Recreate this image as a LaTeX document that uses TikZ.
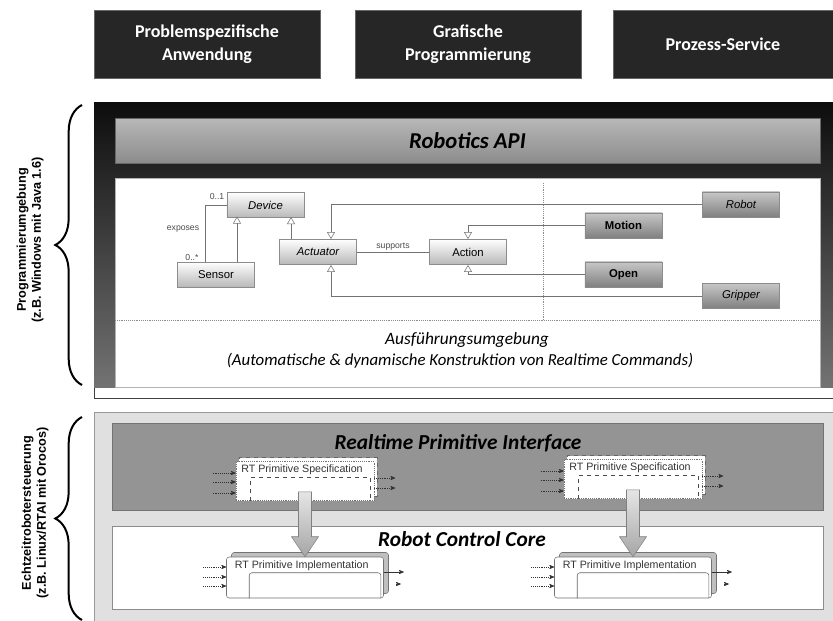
\documentclass[tikz,border=0pt]{standalone}
\usepackage{fontspec}
\setmainfont{Carlito}
\newfontfamily\arialfont{Liberation Sans}
\usepackage{tikz}
\usetikzlibrary{shapes,arrows,calc,decorations.pathreplacing}
\tikzstyle{topbox} = [draw=black!60, fill=black!85, text=white, align=center, font=\bfseries\fontsize{13.5}{17}\selectfont, minimum width=169.5pt, minimum height=51pt, inner sep=0pt]
\tikzstyle{bar} = [font=\bfseries\itshape\fontsize{17}{19}\selectfont, inner sep=0pt]
\tikzstyle{cls} = [draw=black!45, top color=white, bottom color=black!28, font=\arialfont\fontsize{8.5}{9}\selectfont, minimum width=58pt, minimum height=19pt, inner sep=0pt]
\tikzstyle{sub} = [cls, top color=black!22, bottom color=black!50]
\tikzstyle{uml} = [draw=black!55, thin]
\tikzstyle{gen} = [uml, -open triangle 60]
\tikzstyle{tiny} = [font=\arialfont\fontsize{6.5}{7}\selectfont, text=black!70, inner sep=1pt]
\tikzstyle{bracetxt} = [rotate=90, align=center, font=\arialfont\bfseries\fontsize{9.5}{11.25}\selectfont]
\tikzstyle{specbox} = [draw=black!55, densely dotted, fill=white, minimum width=103.5pt, minimum height=29.25pt, inner sep=0pt]
\tikzstyle{specback} = [draw=black!60, dashed, fill=white, minimum width=103.5pt, minimum height=29.25pt, inner sep=0pt]
\tikzstyle{implbox} = [draw=black!55, rounded corners=2pt, fill=white, minimum width=117.75pt, minimum height=30.75pt, inner sep=0pt]
\tikzstyle{implback} = [implbox, fill=black!25]
\tikzstyle{rtlabel} = [font=\arialfont\fontsize{8}{9}\selectfont, text=black!80, inner sep=1pt]
\tikzstyle{port} = [densely dotted, black!80, -stealth']
\tikzstyle{bigarrow} = [draw=black!50, top color=black!10, bottom color=black!35]

\begin{document}
\begin{tikzpicture}[x=0.75pt,y=-0.75pt]
\useasboundingbox (0,0) rectangle (833,621);

% Anwendungen
\node[topbox] (prob) at (207,44) {Problemspezifische\\Anwendung};
\node[topbox] (graf) at (468,44) {Grafische\\Programmierung};
\node[topbox, minimum width=165pt] (proz) at (723,44) {Prozess-Service};

% Programmierumgebung
\draw[black!75, fill=white] (94,102) rectangle (833,398);
\shade[top color=black!95, bottom color=black!55] (94,102) rectangle (833,387);
\node[bar, draw=black!60, top color=black!28, bottom color=black!45, minimum width=528.75pt, minimum height=33.75pt] (api) at (467.5,140.5) {Robotics API};
\draw[black!30, fill=white] (115,178) rectangle (820,387);
\draw[black!45, densely dotted] (115,320) -- (820,320);
\draw[black!45, densely dotted] (543,183) -- (543,320);

\node[cls, font=\arialfont\itshape\fontsize{8.5}{9}\selectfont] (device) at (265.5,205) {Device};
\node[cls] (sensor) at (216,274.5) {Sensor};
\node[cls, font=\arialfont\itshape\fontsize{8.5}{9}\selectfont] (actuator) at (318,252) {Actuator};
\node[cls] (action) at (468,252) {Action};
\node[sub, font=\arialfont\bfseries\fontsize{8.5}{9}\selectfont] (motion) at (623.5,225.5) {Motion};
\node[sub, font=\arialfont\bfseries\fontsize{8.5}{9}\selectfont] (open) at (623.5,274.5) {Open};
\node[sub, font=\arialfont\itshape\fontsize{8.5}{9}\selectfont] (robot) at (741,204.5) {Robot};
\node[sub, font=\arialfont\itshape\fontsize{8.5}{9}\selectfont] (gripper) at (741,296) {Gripper};

\draw[gen] ($(sensor.north)+(21,0)$) -- ($(sensor.north)+(21,-45)$);
\draw[gen] ($(actuator.north)+(-27,0)$) -- ($(actuator.north)+(-27,-22)$);
\draw[uml] (device.west) -| ($(sensor.north)+(-11,0)$);
\draw[gen] (robot.west) -| ($(actuator.north)+(13,0)$);
\draw[gen] (gripper.west) -| ($(actuator.south)+(13,0)$);
\draw[gen] (motion.west) -| (action.north);
\draw[gen] (open.west) -| (action.south);
\path (actuator) edge[uml] node[tiny, above] {supports} (action);

\node[tiny] (expo) at (183,229) {exposes};
\node[tiny] (card1) at (217,197) {0..1};
\node[tiny] (card2) at (192,258) {0..*};

\node[font=\itshape\fontsize{13}{15}\selectfont] (ausf) at (467,340) {Ausführungsumgebung};
\node[font=\itshape\fontsize{12.6}{14}\selectfont] (konst) at (460,361) {(Automatische \& dynamische Konstruktion von Realtime Commands)};

% Echtzeitrobotersteuerung
\draw[black!40, fill=black!12] (94,412) rectangle (833,625);
\draw[black!55, fill=black!42] (112,423) rectangle (823,510);
\draw[black!45, fill=white] (112,526) rectangle (823,609);
\node[bar, font=\bfseries\itshape\fontsize{16}{18}\selectfont] (rpi) at (458,443) {Realtime Primitive Interface};
\node[bar, font=\bfseries\itshape\fontsize{16}{18}\selectfont] (rcc) at (462,539) {Robot Control Core};

\node[specback] (spec1b) at (308,477) {};
\node[specbox] (spec1) at (305,481) {};
\node[specback] (spec2b) at (636,475) {};
\node[specbox] (spec2) at (633,479) {};
\node[implback] (impl1b) at (310,573) {};
\node[implbox] (impl1) at (305,577.5) {};
\node[implback] (impl2b) at (638,573) {};
\node[implbox] (impl2) at (633,577.5) {};

\foreach \s in {spec1,spec2} {
  \node[rtlabel, anchor=north west] at ($(\s.north west)+(4,2)$) {RT Primitive Specification};
  \draw[black!70, dashed] ($(\s.south west)+(15,0)$) |- ($(\s.north east)+(-4,16)$) -- ($(\s.south east)+(-4,0)$);
  \foreach \d in {-8,1,12} \draw[port] ($(\s.west)+(-23,\d)$) -- ($(\s.west)+(0,\d)$);
  \foreach \d in {-3,7} \draw[port] ($(\s.east)+(0,\d)$) -- ($(\s.east)+(21,\d)$);
}
\foreach \s in {impl1,impl2} {
  \node[rtlabel, anchor=north west] at ($(\s.north west)+(7,2)$) {RT Primitive Implementation};
  \draw[black!60, rounded corners=2pt] ($(\s.south west)+(23,0)$) |- ($(\s.north east)+(-3,16)$) -- ($(\s.south east)+(-3,0)$);
  \foreach \d in {-10.5,-0.5,8.5} \draw[port] ($(\s.west)+(-23,\d)$) -- ($(\s.west)+(0,\d)$);
  \draw[black!80, -stealth'] ($(\s.east)+(0,-5.5)$) -- ($(\s.east)+(20,-5.5)$);
  \draw[port] ($(\s.east)+(12,6.5)$) -- ($(\s.east)+(17,6.5)$);
}
\foreach \s/\i in {spec1/impl1, spec2/impl2}
  \draw[bigarrow] ($(\s.south)+(-6.5,-9)$) -- ($(\s.south)+(6.5,-9)$) -- ($(\i.north)+(6.5,-20)$) -- ($(\i.north)+(13.5,-20)$) -- (\i.north) -- ($(\i.north)+(-13.5,-20)$) -- ($(\i.north)+(-6.5,-20)$) -- cycle;

% Klammern
\draw[line width=1.5pt, decorate, decoration={brace, amplitude=20pt}] (82,385) -- (82,105);
\draw[line width=1.5pt, decorate, decoration={brace, amplitude=20pt}] (82,620) -- (82,417);
\node[bracetxt] (pu) at (30,240) {Programmierumgebung\\(z.B. Windows mit Java 1.6)};
\node[bracetxt] (es) at (35,513) {Echtzeitrobotersteuerung\\(z.B. Linux/RTAI mit Orocos)};

\end{tikzpicture}
\end{document}
